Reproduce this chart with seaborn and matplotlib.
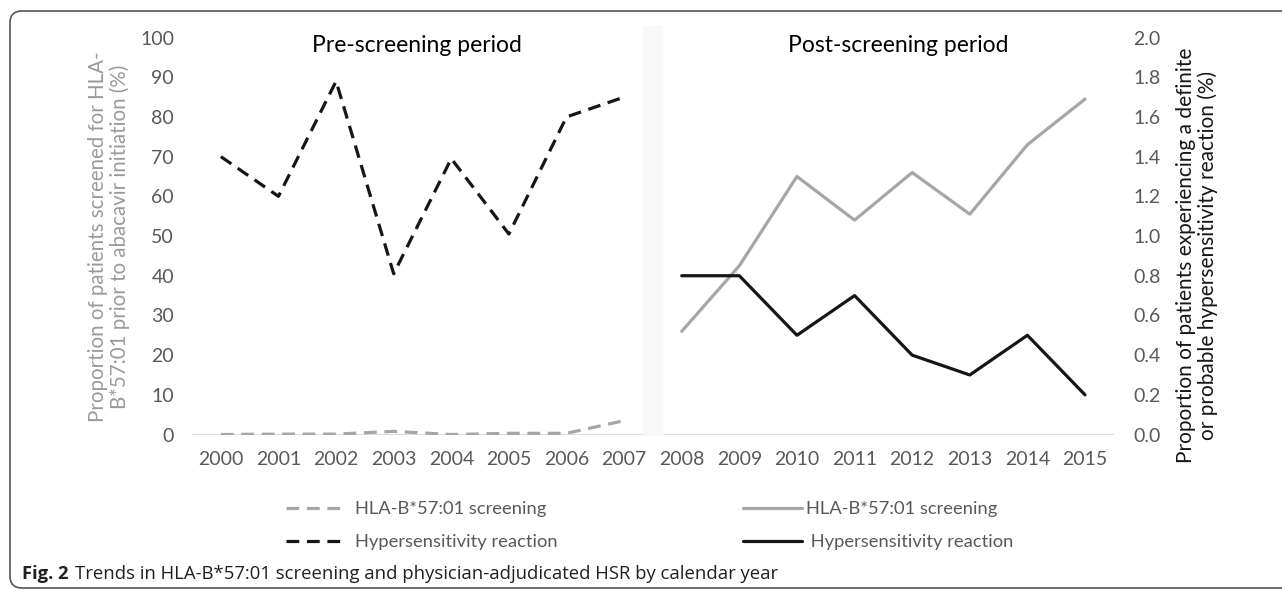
import matplotlib
matplotlib.use("Agg")
import matplotlib.pyplot as plt
from matplotlib.patches import FancyBboxPatch
import pandas as pd
import seaborn as sns

# data
years_pre = [2000, 2001, 2002, 2003, 2004, 2005, 2006, 2007]
years_post = [2008, 2009, 2010, 2011, 2012, 2013, 2014, 2015]
screen_pre = [0.0, 0.1, 0.1, 0.8, 0.0, 0.3, 0.3, 3.5]          # % screened (left axis)
hsr_pre = [1.40, 1.20, 1.78, 0.81, 1.39, 1.01, 1.60, 1.70]     # % HSR (right axis)
screen_post = [26.0, 42.5, 65.0, 54.0, 66.0, 55.5, 73.0, 84.5]
hsr_post = [0.80, 0.80, 0.50, 0.70, 0.40, 0.30, 0.50, 0.20]
all_years = years_pre + years_post

pre = pd.DataFrame({"year": years_pre, "screen": screen_pre, "hsr": hsr_pre})
post = pd.DataFrame({"year": years_post, "screen": screen_post, "hsr": hsr_post})

sns.set_theme(style="white")
plt.rcParams["font.family"] = ["Lato", "DejaVu Sans"]

GREY = "#a6a6a6"
BLACK = "#161616"
TICK = "#595959"
DASH = (0, (4, 2.4))
LW = 2.3

fig = plt.figure(figsize=(12.82, 5.92), dpi=100)
ax = fig.add_axes([0.1498, 0.266, 0.719, 0.6706])
ax2 = ax.twinx()

# left axis: screening
sns.lineplot(data=pre, x="year", y="screen", ax=ax, color=GREY, linewidth=LW,
             linestyle=DASH, legend=False, label="HLA-B*57:01 screening")
sns.lineplot(data=post, x="year", y="screen", ax=ax, color=GREY, linewidth=LW,
             legend=False, label="HLA-B*57:01 screening")
# right axis: hypersensitivity reaction
sns.lineplot(data=pre, x="year", y="hsr", ax=ax2, color=BLACK, linewidth=LW,
             linestyle=DASH, legend=False, label="Hypersensitivity reaction")
sns.lineplot(data=post, x="year", y="hsr", ax=ax2, color=BLACK, linewidth=LW,
             legend=False, label=" Hypersensitivity reaction")

ax.axhline(0, color="#d9d9d9", lw=1.3, zorder=0)
ax.axvspan(2007.33, 2007.66, ymin=0, ymax=1.03, color="#f8f8f8", zorder=0, clip_on=False)

ax.set_xlim(1999.5, 2015.5)
ax.set_ylim(0, 100)
ax2.set_ylim(0, 2.0)
ax.set_xticks(all_years)
ax.set_xticklabels([str(y) for y in all_years])
ax.set_yticks(range(0, 101, 10))
ax2.set_yticks([i / 5 for i in range(11)])
ax2.set_yticklabels([f"{i / 5:.1f}" for i in range(11)])
ax.set_xlabel("")
ax.set_ylabel("")
ax2.set_ylabel("")

for a in (ax, ax2):
    for s in a.spines.values():
        s.set_visible(False)
    a.grid(False)
ax.tick_params(axis="x", length=0, pad=12, labelsize=14, labelcolor=TICK)
ax.tick_params(axis="y", length=0, pad=13, labelsize=14, labelcolor=TICK)
ax2.tick_params(axis="y", length=0, pad=14, labelsize=14, labelcolor=TICK)

ax.text(2003.4, 98, "Pre-screening period", ha="center", va="center", fontsize=16.5, color="black")
ax.text(2011.75, 98, "Post-screening period", ha="center", va="center", fontsize=16.5, color="black")

fig.text(109 / 1282, 1 - 237 / 592,
         "Proportion of patients screened for HLA-\nB*57:01 prior to abacavir initiation (%)",
         rotation=90, ha="center", va="center", multialignment="center",
         fontsize=14.8, color="#9a9a9a", linespacing=1.1)
fig.text(1197 / 1282, 1 - 255 / 592,
         "Proportion of patients experiencing a definite\nor probable hypersensitivity reaction (%)",
         rotation=90, ha="center", va="center", multialignment="center",
         fontsize=15, color=BLACK, linespacing=1.1)

# legends: dashed (pre) on the left, solid (post) on the right
h1, l1 = ax.get_legend_handles_labels()
h2, l2 = ax2.get_legend_handles_labels()
leg_pre = fig.legend([h1[0], h2[0]], [l1[0], l2[0]], loc="upper left",
                     bbox_to_anchor=(286 / 1282, 1 - 501 / 592), frameon=False,
                     fontsize=13.2, handlelength=3.2, handletextpad=0.55,
                     labelspacing=0.95, borderpad=0, borderaxespad=0, labelcolor=TICK)
leg_post = fig.legend([h1[1], h2[1]], [l1[1], l2[1]], loc="upper left",
                      bbox_to_anchor=(743 / 1282, 1 - 501 / 592), frameon=False,
                      fontsize=13.2, handlelength=3.2, handletextpad=0.25,
                      labelspacing=0.95, borderpad=0, borderaxespad=0, labelcolor=TICK)

# caption and frame
fig.text(22 / 1282, 1 - 574 / 592, "Fig. 2", fontsize=13.2, fontweight="bold",
         color="#231f20", va="center", family=["Open Sans", "DejaVu Sans"])
fig.text(75 / 1282, 1 - 574 / 592,
         "Trends in HLA-B*57:01 screening and physician-adjudicated HSR by calendar year",
         fontsize=13.3, color="#231f20", va="center", family=["Open Sans", "DejaVu Sans"])
frame = FancyBboxPatch((0.10, 0.04), 13.0, 5.77, boxstyle="round,pad=0,rounding_size=0.12",
                       transform=fig.dpi_scale_trans, facecolor="none",
                       edgecolor="#555555", linewidth=1.2)
fig.add_artist(frame)

fig.savefig("out.png", dpi=100)
